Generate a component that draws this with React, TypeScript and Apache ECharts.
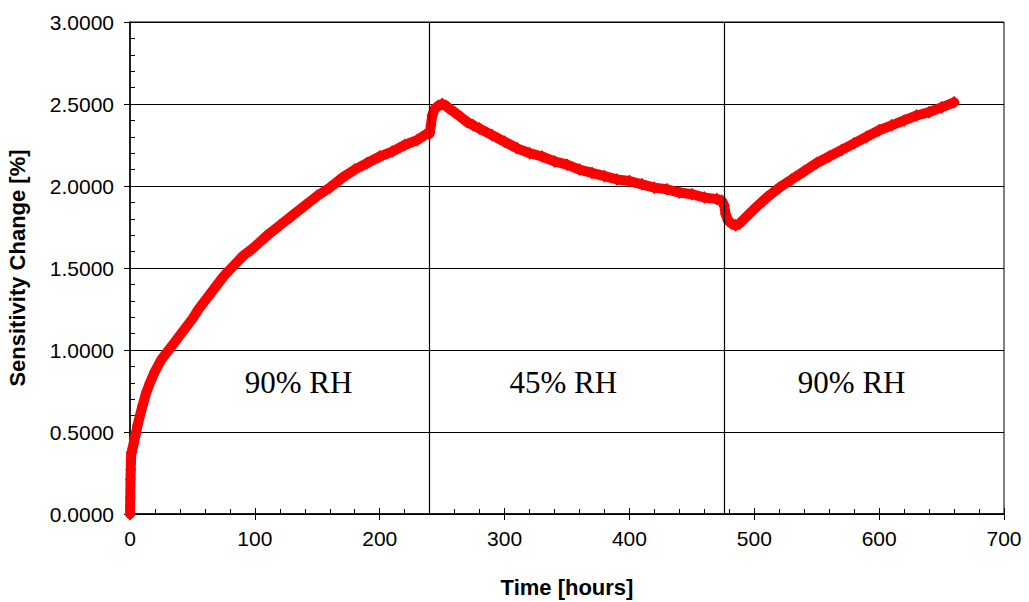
import React, { useEffect, useRef } from "react";
import * as echarts from "echarts";

const timeHours = [
  0, 0.2, 0.4, 0.6, 0.8, 1.0, 1.5, 2, 3, 4, 5, 6, 8, 10, 13, 16, 20, 25, 30, 35, 40, 45, 50, 55, 60, 65, 70, 75, 80,
  90, 100, 110, 120, 130, 140, 150, 160, 170, 180, 190, 200, 210, 220, 230, 236, 240, 241, 242, 244, 247, 250, 253,
  256, 260, 265, 270, 275, 280, 290, 300, 310, 320, 330, 340, 350, 360, 370, 380, 390, 400, 410, 420, 430, 440, 450,
  460, 470, 474, 476, 477, 479, 482, 485, 488, 492, 496, 500, 510, 520, 530, 540, 550, 560, 570, 580, 590, 600, 610,
  620, 630, 640, 650, 660,
];

const sensitivityChange = [
  0, 0.1, 0.21, 0.27, 0.33, 0.37, 0.38, 0.4, 0.43, 0.47, 0.5, 0.54, 0.6, 0.66, 0.74, 0.8, 0.87, 0.94, 0.99, 1.04,
  1.09, 1.14, 1.19, 1.25, 1.3, 1.35, 1.4, 1.45, 1.49, 1.57, 1.63, 1.7, 1.76, 1.82, 1.88, 1.94, 1.99, 2.05, 2.1, 2.14,
  2.18, 2.21, 2.25, 2.28, 2.31, 2.32, 2.37, 2.43, 2.47, 2.49, 2.5, 2.49, 2.47, 2.45, 2.42, 2.39, 2.37, 2.35, 2.31,
  2.27, 2.23, 2.2, 2.18, 2.15, 2.13, 2.1, 2.08, 2.06, 2.04, 2.03, 2.01, 1.99, 1.98, 1.96, 1.95, 1.93, 1.92, 1.91,
  1.88, 1.83, 1.79, 1.77, 1.76, 1.77, 1.8, 1.83, 1.86, 1.93, 1.99, 2.04, 2.09, 2.14, 2.18, 2.22, 2.26, 2.3, 2.34,
  2.37, 2.4, 2.43, 2.45, 2.48, 2.51,
];

const phaseBoundaries = [240, 476];
const phaseLabels = ["90% RH", "45% RH", "90% RH"];
const phaseLabelTimes = [135, 347, 578];

export default function App() {
  const ref = useRef<HTMLDivElement>(null);

  useEffect(() => {
    if (!ref.current) return;
    const chart = echarts.init(ref.current, null, { renderer: "svg" });
    const data = timeHours.map((t, i) => [t, sensitivityChange[i]]);
    const labelFont = { fontFamily: "Liberation Sans, Arial, sans-serif", fontSize: 21, color: "#000" };

    const option: any = {
      animation: false,
      backgroundColor: "#fff",
      grid: {
        left: 130,
        right: 25,
        top: 22,
        bottom: 88,
        outerBoundsMode: "none",
        containLabel: false,
        show: true,
        borderColor: "#000",
        borderWidth: 1,
        backgroundColor: "transparent",
      },
      xAxis: [
        {
          type: "value",
          min: 0,
          max: 700,
          interval: 100,
          position: "bottom",
          offset: 0,
          name: "Time [hours]",
          nameLocation: "middle",
          nameGap: 62,
          nameTextStyle: { ...labelFont, fontWeight: "bold", fontSize: 22 },
          axisLine: { show: true, lineStyle: { color: "#000", width: 1.5 } },
          axisTick: { show: true, inside: false, length: 6, lineStyle: { color: "#000" } },
          axisLabel: { ...labelFont, margin: 14 },
          splitLine: { show: false },
        },
        {
          type: "value",
          min: 0,
          max: 700,
          interval: 100,
          position: "bottom",
          offset: 0,
          axisLine: { show: false },
          axisTick: { show: true, inside: true, length: 6, lineStyle: { color: "#000" } },
          minorTick: { show: true, splitNumber: 5, length: 5, lineStyle: { color: "#000" } },
          axisLabel: { show: false },
          splitLine: { show: false },
        },
      ],
      yAxis: [
        {
          type: "value",
          min: 0,
          max: 3,
          interval: 0.5,
          position: "left",
          offset: 0,
          name: "Sensitivity Change [%]",
          nameLocation: "middle",
          nameGap: 102,
          nameTextStyle: { ...labelFont, fontWeight: "bold", fontSize: 22 },
          axisLine: { show: true, lineStyle: { color: "#000", width: 1.5 } },
          axisTick: { show: true, inside: false, length: 6, lineStyle: { color: "#000" } },
          axisLabel: { ...labelFont, margin: 16, formatter: (v: number) => v.toFixed(4) },
          splitLine: { show: true, lineStyle: { color: "#000", width: 1 } },
        },
        {
          type: "value",
          min: 0,
          max: 3,
          interval: 0.5,
          position: "left",
          offset: 0,
          axisLine: { show: false },
          axisTick: { show: true, inside: true, length: 6, lineStyle: { color: "#000" } },
          minorTick: { show: true, splitNumber: 5, length: 5, lineStyle: { color: "#000" } },
          axisLabel: { show: false },
          splitLine: { show: false },
        },
      ],
      series: [
        {
          type: "line",
          data,
          xAxisIndex: 0,
          yAxisIndex: 0,
          symbol: "diamond",
          symbolSize: [11, 13],
          showAllSymbol: true,
          itemStyle: { color: "#ff0000" },
          lineStyle: { color: "#ff0000", width: 10, join: "round", cap: "round" },
          z: 3,
          markLine: {
            silent: true,
            symbol: ["none", "none"],
            label: { show: false },
            lineStyle: { color: "#000", width: 1.2, type: "solid" },
            data: phaseBoundaries.map((x) => ({ xAxis: x })),
            z: 4,
          },
          markPoint: {
            symbol: "rect",
            symbolSize: 1,
            itemStyle: { color: "transparent" },
            label: {
              show: true,
              position: "inside",
              fontFamily: "Liberation Serif, Times New Roman, serif",
              fontSize: 31,
              color: "#000",
              formatter: (p: any) => p.name,
            },
            data: phaseLabels.map((name, i) => ({ name, coord: [phaseLabelTimes[i], 0.8] })),
          },
        },
      ],
    };
    chart.setOption(option);
    return () => chart.dispose();
  }, []);

  return (
    <div
      ref={ref}
      style={{ position: "absolute", left: 0, top: 0, width: 1029, height: 602 }}
    />
  );
}
